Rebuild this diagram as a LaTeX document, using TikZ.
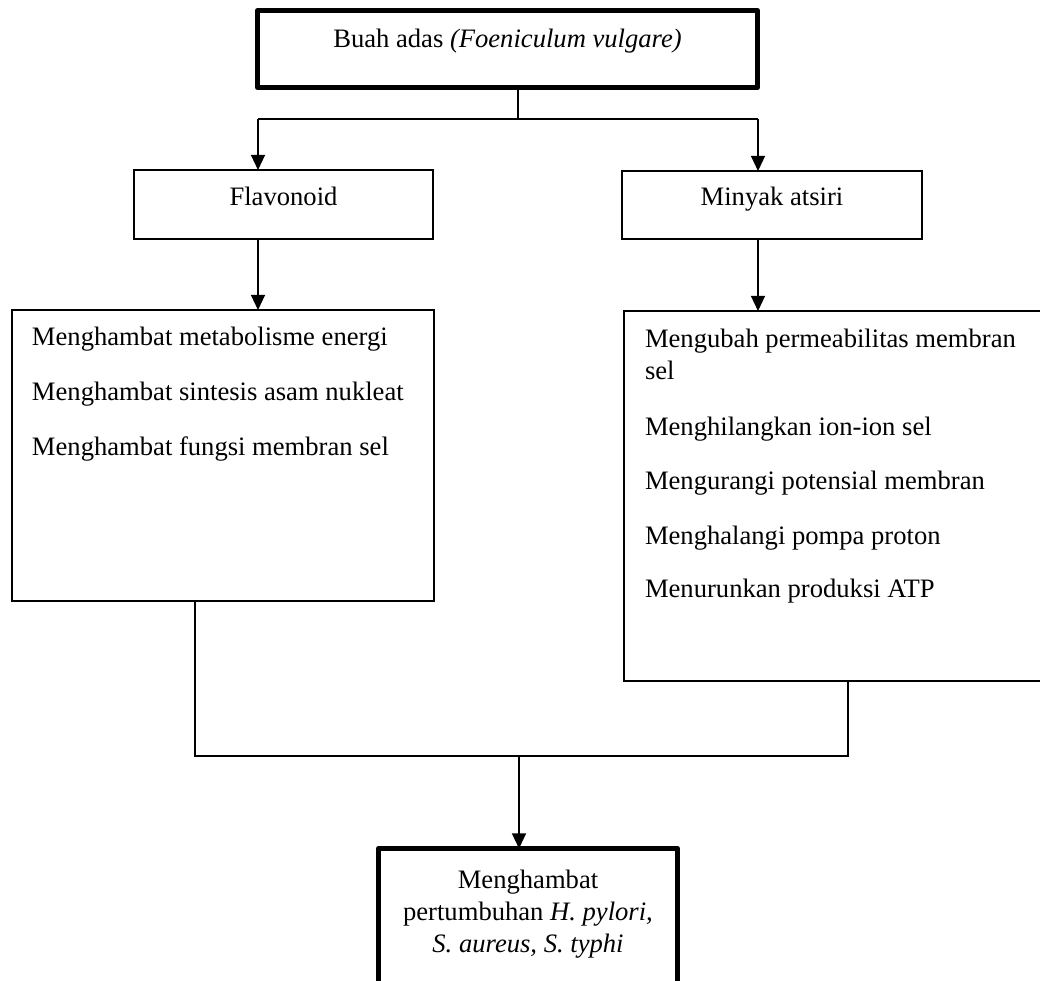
\documentclass[tikz,border=0pt]{standalone}
\usepackage{fontspec}
\setmainfont{Liberation Serif}
\usetikzlibrary{arrows.meta}
\def\pu{0.451pt}
\tikzset{
  thinbox/.style={draw, line width=0.7pt, rectangle, inner sep=0pt, outer sep=0pt, anchor=north west},
  thickbox/.style={draw, line width=2.3pt, line join=round, rectangle, inner sep=0pt, outer sep=0pt, anchor=north west},
  txt/.style={inner sep=0pt, outer sep=0pt, font=\fontsize{12}{14.4}\selectfont},
  conn/.style={line width=0.7pt},
  arr/.style={line width=0.7pt, -{Triangle[width=6.3pt,length=6.8pt]}}
}
\begin{document}
\begin{tikzpicture}[x=\pu, y=-\pu]
\useasboundingbox (0,0) rectangle (1040,981);
% boxes
\node[thickbox, minimum width=500*\pu, minimum height=77*\pu] (top) at (257.5,10.5) {};
\node[thinbox, minimum width=299*\pu, minimum height=69*\pu] (flav) at (134,170) {};
\node[thinbox, minimum width=300*\pu, minimum height=68*\pu] (miny) at (622,171) {};
\node[thinbox, minimum width=422*\pu, minimum height=291*\pu] (left) at (12,310) {};
\node[thinbox, minimum width=500*\pu, minimum height=370*\pu] (right) at (624,311) {};
\node[thickbox, minimum width=299*\pu, minimum height=200*\pu] (res) at (378.5,848.5) {};
% texts
\node[txt, anchor=base] (ttop) at (507.5,48) {Buah adas \textit{(Foeniculum vulgare)}};
\node[txt, anchor=base] (tflav) at (283.5,206) {Flavonoid};
\node[txt, anchor=base] (tminy) at (772,206) {Minyak atsiri};
\node[txt, anchor=base west] (l1) at (32,345) {Menghambat metabolisme energi};
\node[txt, anchor=base west] (l2) at (32,400) {Menghambat sintesis asam nukleat};
\node[txt, anchor=base west] (l3) at (32,455) {Menghambat fungsi membran sel};
\node[txt, anchor=base west] (r1) at (645,347) {Mengubah permeabilitas membran};
\node[txt, anchor=base west] (r1b) at (645,379) {sel};
\node[txt, anchor=base west] (r2) at (645,435) {Menghilangkan ion-ion sel};
\node[txt, anchor=base west] (r3) at (645,489) {Mengurangi potensial membran};
\node[txt, anchor=base west] (r4) at (645,544) {Menghalangi pompa proton};
\node[txt, anchor=base west] (r5) at (645,597) {Menurunkan produksi ATP};
\node[txt, anchor=base] (b1) at (528,888) {Menghambat};
\node[txt, anchor=base] (b2) at (528,920) {pertumbuhan \textit{H. pylori,}};
\node[txt, anchor=base] (b3) at (528,952) {\textit{S. aureus, S. typhi}};
% connectors
\coordinate (jT) at (518,119);
\coordinate (aL) at (258,119);
\coordinate (aR) at (758,119);
\draw[conn] (jT |- top.south) -- (jT);
\draw[conn] (aL) -- (aR);
\draw[arr] (aL) -- (aL |- flav.north);
\draw[arr] (aR) -- (aR |- miny.north);
\draw[arr] (aL |- flav.south) -- (aL |- left.north);
\draw[arr] (aR |- miny.south) -- (aR |- right.north);
\coordinate (bL) at (195,756);
\coordinate (bR) at (848,756);
\coordinate (bM) at (519,756);
\draw[conn] (bL |- left.south) -- (bL) -- (bR) -- (bR |- right.south);
\draw[arr] (bM) -- (bM |- res.north);
\end{tikzpicture}
\end{document}
